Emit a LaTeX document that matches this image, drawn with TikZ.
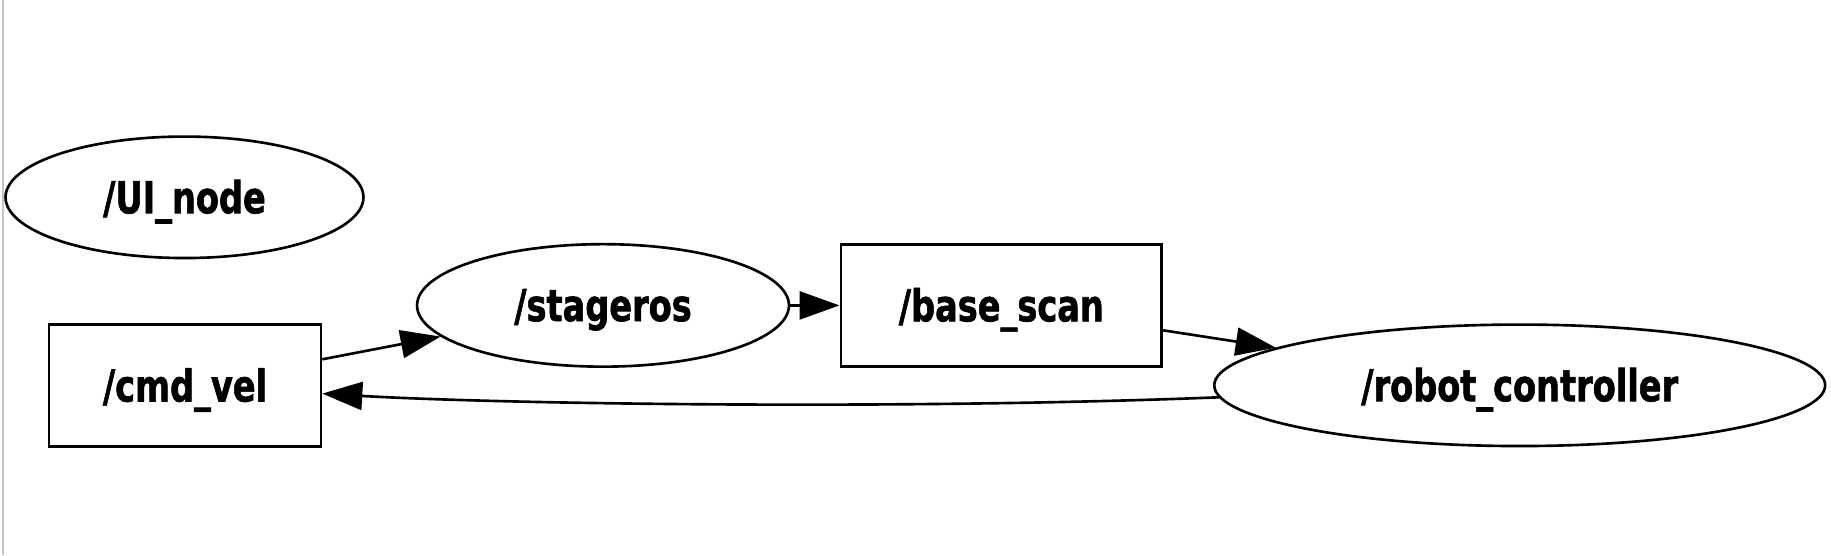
\documentclass[tikz,border=0pt]{standalone}
\usepackage{fontspec}
\usepackage{graphicx}
\usetikzlibrary{arrows.meta,shapes.geometric}
\newfontfamily\graphfont{DejaVu Sans Condensed}[BoldFeatures={FakeBold=1.5}]
\newcommand\nodelabel[1]{\raisebox{-2.5pt}[\height][\depth]{\scalebox{0.85}[1]{#1}}}

\begin{document}
\begin{tikzpicture}[x=0.02cm,y=-0.02cm,line width=1.5pt,
		>={Triangle[length=0.8cm,width=0.56cm]},
		every node/.style={draw,inner sep=0pt,font=\graphfont\bfseries\fontsize{25}{30}\selectfont},
		proc/.style={ellipse,minimum height=2.43cm},
		topic/.style={rectangle,minimum height=2.44cm}]
		\useasboundingbox (0,0) rectangle (1831,555);
		\draw[line width=0.8pt,gray!45] (3,0) -- (3,555);
		
		% nodes
		\node[proc,minimum width=7.16cm] (ui) at (184.5,197.3) {\nodelabel{/UI\_node}};
		\node[topic,minimum width=5.44cm] (cmd) at (185,385.6) {\nodelabel{/cmd\_vel}};
		\node[proc,minimum width=7.44cm,minimum height=2.45cm] (stage) at (603,305.4) {\nodelabel{/stageros}};
		\node[topic,minimum width=6.42cm] (scan) at (1001.3,305.4) {\nodelabel{/base\_scan}};
		\node[proc,minimum width=12.22cm] (ctrl) at (1519.7,385.3) {\nodelabel{/robot\_controller}};
		
		% edges
		\draw[->] (cmd) -- (stage);
		\draw[->] (stage) -- (scan);
		\draw[->] (scan) -- (ctrl);
		\draw[->] (ctrl) .. controls (900,410) and (500,404) .. (cmd);
	\end{tikzpicture}
\end{document}
